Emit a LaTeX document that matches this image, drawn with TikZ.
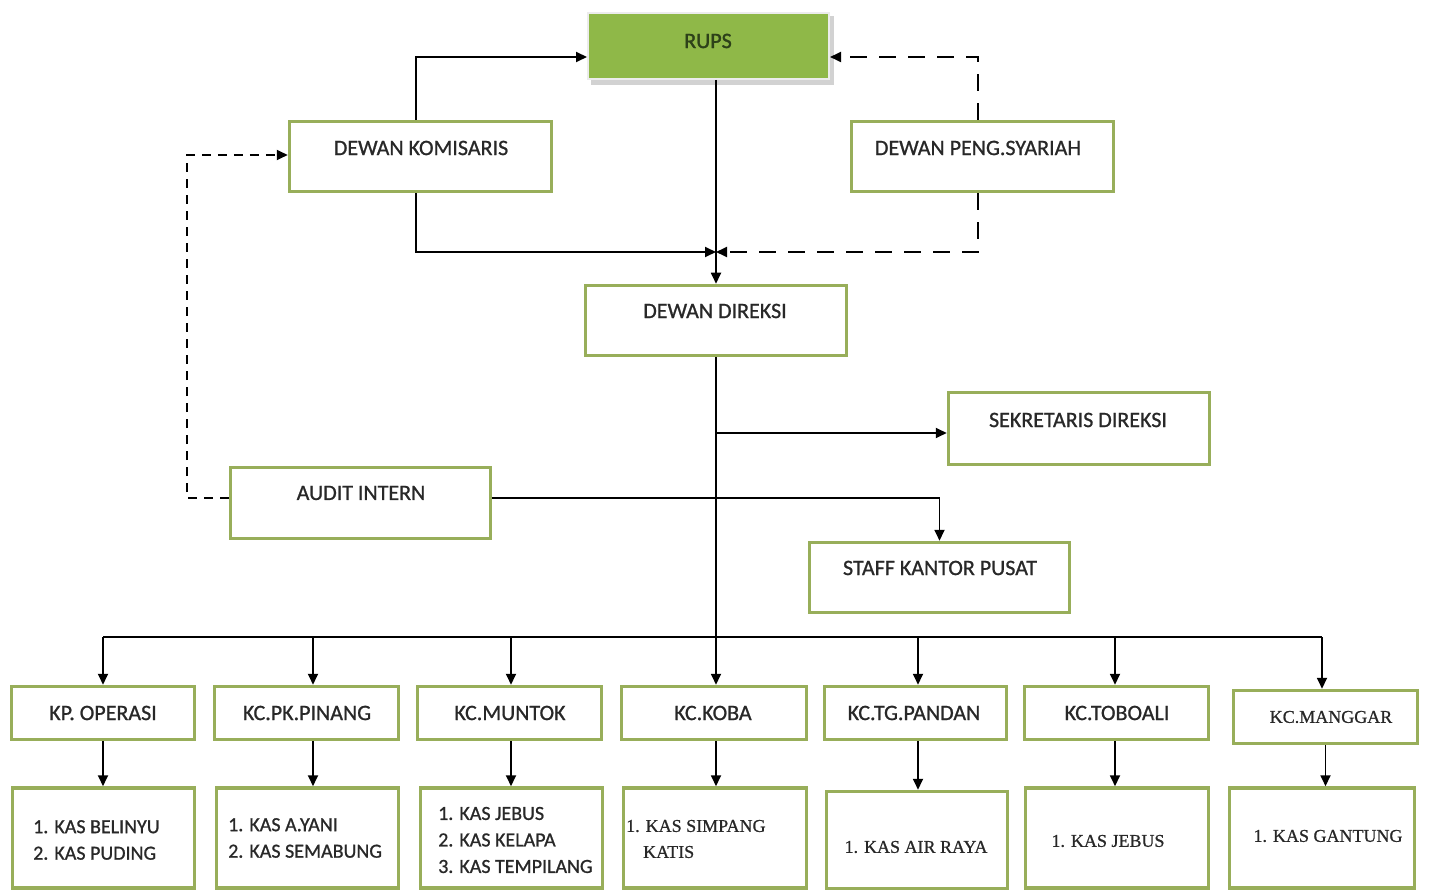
\documentclass[tikz,border=0pt]{standalone}
\usepackage{fontspec}
\setmainfont[FakeBold=0.9]{Carlito}
\newfontfamily\cam[FakeBold=0.7]{Liberation Serif}
\newfontfamily\bcar[FakeBold=1.5]{Carlito}
\usetikzlibrary{arrows.meta}
\definecolor{boxg}{RGB}{152,174,90}
\definecolor{rupsg}{RGB}{143,184,72}
\definecolor{txt}{RGB}{40,40,40}
\begin{document}
\begin{tikzpicture}[x=1pt,y=-1pt,
  box/.style={draw=boxg, line width=3.5pt, fill=white, inner sep=0pt},
  lbl/.style={text=txt, inner sep=0pt, font=\fontsize{22}{26}\selectfont},
  sub/.style={text=txt, inner sep=0pt, align=left, font=\fontsize{20}{26.5}\selectfont},
  ser/.style={text=txt, inner sep=0pt, font=\cam\fontsize{18}{24}\selectfont},
  arr/.style={-{Triangle[length=11pt,width=10pt]}, line width=1.8pt, black},
  ln/.style={line width=1.8pt, black},
  dashL/.style={dash pattern=on 17pt off 12pt},
  dashS/.style={dash pattern=on 9pt off 7pt}]
\useasboundingbox (0,0) rectangle (1429,890);
\fill[white] (0,0) rectangle (1429,890);

% top level
\fill[gray!35] (591,16) rectangle (834,85);
\node[draw=gray!15, line width=2pt, fill=rupsg, minimum width=241, minimum height=66, inner sep=0pt] (RUPS) at (708.5,46) {};
\node[text={rgb,255:red,45;green,65;blue,25}, inner sep=0pt, font=\bcar\fontsize{22}{26}\selectfont] (tRUPS) at (708,41) {RUPS};

\node[box, minimum width=262, minimum height=70] (DK) at (420.5,156.5) {};
\node[lbl] (tDK) at (421,148) {DEWAN KOMISARIS};
\node[box, minimum width=262, minimum height=70] (DPS) at (982.5,156.5) {};
\node[lbl] (tDPS) at (978,148) {DEWAN PENG.SYARIAH};
\node[box, minimum width=261, minimum height=70] (DD) at (716,320.5) {};
\node[lbl] (tDD) at (715,311) {DEWAN DIREKSI};
\node[box, minimum width=261, minimum height=72] (SD) at (1079,428.5) {};
\node[lbl] (tSD) at (1078,420) {SEKRETARIS DIREKSI};
\node[box, minimum width=260, minimum height=71] (AI) at (360.5,503) {};
\node[lbl] (tAI) at (361,493) {AUDIT INTERN};
\node[box, minimum width=260, minimum height=70] (SKP) at (939.5,577.5) {};
\node[lbl] (tSKP) at (940,568) {STAFF KANTOR PUSAT};

% branch row
\node[box, minimum width=183, minimum height=53] (KP) at (103,713) {};
\node[lbl] (tKP) at (103,713) {KP. OPERASI};
\node[box, minimum width=184, minimum height=53] (PK) at (306.5,713) {};
\node[lbl] (tPK) at (307,713) {KC.PK.PINANG};
\node[box, minimum width=184, minimum height=53] (MU) at (509.5,713) {};
\node[lbl] (tMU) at (510,713) {KC.MUNTOK};
\node[box, minimum width=185, minimum height=53] (KO) at (714,713) {};
\node[lbl] (tKO) at (713,713) {KC.KOBA};
\node[box, minimum width=182, minimum height=53] (TG) at (915.5,713) {};
\node[lbl] (tTG) at (914,713) {KC.TG.PANDAN};
\node[box, minimum width=184, minimum height=53] (TO) at (1116.5,713) {};
\node[lbl] (tTO) at (1117,713) {KC.TOBOALI};
\node[box, minimum width=184, minimum height=53] (MA) at (1325.5,717) {};
\node[ser] (tMA) at (1331,717) {KC.MANGGAR};

% sub row
\node[box, minimum width=182, minimum height=100] (S1) at (103.5,838) {};
\node[sub, anchor=west] (tS1) at (33,840) {1. KAS BELINYU\\2. KAS PUDING};
\node[box, minimum width=182, minimum height=100] (S2) at (307.5,838) {};
\node[sub, anchor=west] (tS2) at (228,838) {1. KAS A.YANI\\2. KAS SEMABUNG};
\node[box, minimum width=182, minimum height=100] (S3) at (511.5,838) {};
\node[sub, anchor=west] (tS3) at (438,840) {1. KAS JEBUS\\2. KAS KELAPA\\3. KAS TEMPILANG};
\node[box, minimum width=183, minimum height=100] (S4) at (715,838) {};
\node[ser, anchor=west, align=left, font=\cam\fontsize{18}{26}\selectfont] (tS4) at (626,839) {1. KAS SIMPANG\\\hspace*{17pt}KATIS};
\node[box, minimum width=181, minimum height=97] (S5) at (917,840) {};
\node[ser] (tS5) at (916,847) {1. KAS AIR RAYA};
\node[box, minimum width=183, minimum height=100] (S6) at (1117,838) {};
\node[ser] (tS6) at (1108,841) {1. KAS JEBUS};
\node[box, minimum width=185, minimum height=100] (S7) at (1322,838) {};
\node[ser] (tS7) at (1328,836) {1. KAS GANTUNG};

% junctions
\coordinate (J) at (716,252);
\coordinate (SDJ) at (716,433);
\coordinate (b1) at (103,637);
\coordinate (b2) at (313,637);
\coordinate (b3) at (511,637);
\coordinate (b5) at (918,637);
\coordinate (b6) at (1115,637);
\coordinate (b7) at (1322,637);

% connectors top
\draw[arr] ([xshift=-4.5]DK.north) |- ([yshift=-11]RUPS.west);
\draw[arr] ([xshift=-4.5]DK.south) |- (J);
\draw[arr, dashL] ([xshift=-4.5]DPS.north) |- ([yshift=-11]RUPS.east);
\draw[arr, dashL] ([xshift=-4.5]DPS.south) |- (J);
\draw[arr] (DD.north |- RUPS.south) -- (DD.north);

% below direksi
\draw[arr] (DD.south) -- (DD.south |- KO.north);
\draw[arr] (SDJ) -- (SDJ -| SD.west);
\draw[arr] ([yshift=5]AI.east) -| (SKP.north);
\draw[arr, dashS] ([yshift=5]AI.west) -- ++(-42,0) |- ([yshift=1.5]DK.west);

% bus
\draw[ln] (b1) -- (b7);
\draw[arr] (b1) -- (b1 |- KP.north);
\draw[arr] (b2) -- (b2 |- PK.north);
\draw[arr] (b3) -- (b3 |- MU.north);
\draw[arr] (b5) -- (b5 |- TG.north);
\draw[arr] (b6) -- (b6 |- TO.north);
\draw[arr] (b7) -- (b7 |- MA.north);

% to sub offices
\draw[arr] (b1 |- KP.south) -- (b1 |- S1.north);
\draw[arr] (b2 |- PK.south) -- (b2 |- S2.north);
\draw[arr] (b3 |- MU.south) -- (b3 |- S3.north);
\draw[arr] (DD.south |- KO.south) -- (DD.south |- S4.north);
\draw[arr] (b5 |- TG.south) -- (b5 |- S5.north);
\draw[arr] (b6 |- TO.south) -- (b6 |- S6.north);
\draw[arr] (MA.south) -- (MA.south |- S7.north);
\end{tikzpicture}
\end{document}
